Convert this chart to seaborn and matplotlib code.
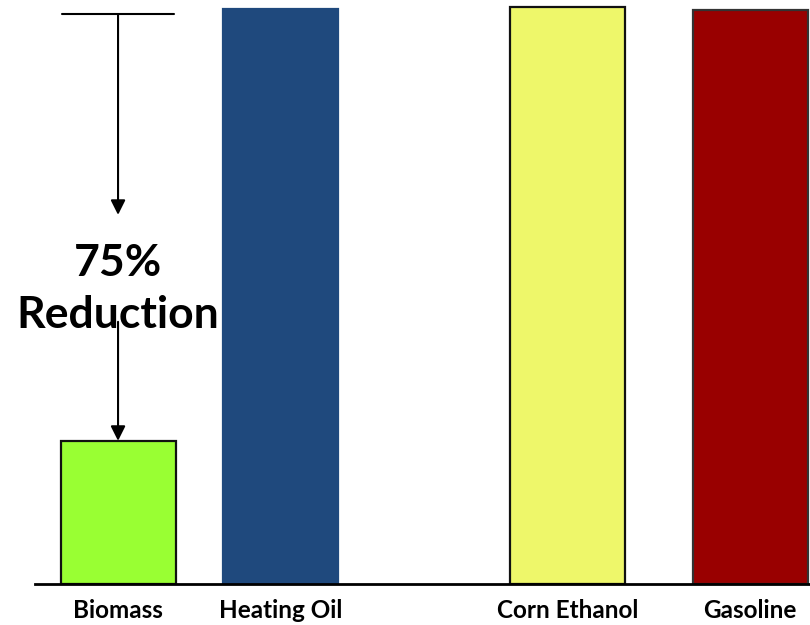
import matplotlib
matplotlib.use("Agg")
import matplotlib.pyplot as plt
import seaborn as sns
import pandas as pd

# Relative greenhouse-gas emissions (heating oil = 100)
fuels = ["Biomass", "Heating Oil", "Corn Ethanol", "Gasoline"]
emissions = [24.9, 100.0, 100.3, 99.8]
bar_colors = ["#99FF33", "#1F497D", "#EEF76A", "#990000"]
edge_colors = ["#111111", "#1F497D", "#111111", "#333333"]
reduction_text = "75%\nReduction"

# horizontal slots for the bars (uneven spacing between groups)
slots = [0.0, 1.0, 2.766, 3.889]

sns.set_theme(style="white")
plt.rcParams["font.family"] = ["Lato", "DejaVu Sans"]
plt.rcParams["text.color"] = "black"
plt.rcParams["xtick.color"] = "black"

df = pd.DataFrame({"slot": slots, "fuel": fuels, "value": emissions})

fig = plt.figure(figsize=(8.1, 6.25), dpi=100)
ax = fig.add_axes([35 / 810, 1 - 584 / 625, 775 / 810, 584 / 625])

sns.barplot(data=df, x="slot", y="value", hue="fuel", palette=bar_colors,
            native_scale=True, width=0.708, dodge=False, legend=False,
            ax=ax, saturation=1)

for patch, ec in zip(ax.patches, edge_colors):
    patch.set_edgecolor(ec)
    patch.set_linewidth(1.6)

ax.set_xlim(-0.511, 4.258)
ax.set_ylim(0, 101.57)

for side in ["top", "right", "left"]:
    ax.spines[side].set_visible(False)
ax.spines["bottom"].set_color("black")
ax.spines["bottom"].set_linewidth(2)
ax.set_yticks([])
ax.set_xticks(slots)
ax.set_xticklabels(fuels, fontsize=17.5, fontweight="bold", color="black")
ax.tick_params(axis="x", length=0, pad=11)
ax.set_xlabel("")
ax.set_ylabel("")

# reduction marker above the biomass bar
top = 99.1
x0 = slots[0]
ax.plot([x0 - 0.345, x0 + 0.345], [top, top], color="black", lw=1.5)
ax.annotate("", xy=(x0, 64.2), xytext=(x0, top),
            arrowprops=dict(arrowstyle="-|>", color="black", lw=1.5,
                            mutation_scale=22, shrinkA=0, shrinkB=0))
ax.annotate("", xy=(x0, emissions[0]), xytext=(x0, 45.6),
            arrowprops=dict(arrowstyle="-|>", color="black", lw=1.5,
                            mutation_scale=22, shrinkA=0, shrinkB=0))
ax.text(x0, 51.3, reduction_text, ha="center", va="center",
        fontsize=32, fontweight="bold", linespacing=1.38, zorder=5,
        color="black")

fig.savefig("out.png", dpi=100)
